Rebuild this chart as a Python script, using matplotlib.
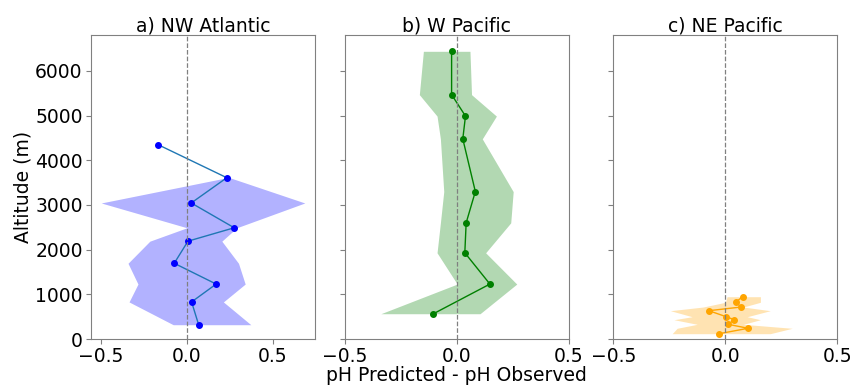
import numpy as np
import matplotlib
matplotlib.use('Agg')
import matplotlib.pyplot as plt

# NW Atlantic
alt_a = [4350, 3610, 3045, 2490, 2190, 1695, 1230, 830, 320]
diff_a = [-0.168, 0.232, 0.025, 0.275, 0.006, -0.074, 0.170, 0.027, 0.068]
low_a = [np.nan, 0.232, -0.499, 0.0, -0.216, -0.343, -0.285, -0.337, -0.080]
high_a = [np.nan, 0.250, 0.686, 0.290, 0.203, 0.300, 0.339, 0.212, 0.372]

# W Pacific
alt_b = [6440, 5470, 4990, 4480, 3300, 2600, 1930, 1230, 566]
diff_b = [-0.022, -0.022, 0.040, 0.028, 0.084, 0.043, 0.037, 0.149, -0.103]
low_b = [-0.148, -0.166, -0.087, -0.072, -0.057, -0.072, -0.087, 0.003, -0.338]
high_b = [0.060, 0.067, 0.178, 0.115, 0.253, 0.242, 0.130, 0.269, 0.105]

# NE Pacific
alt_c = [947, 822, 716, 634, 499, 432, 329, 240, 119]
diff_c = [0.076, 0.046, 0.070, -0.074, 0.003, 0.040, 0.012, 0.101, -0.028]
low_c = [0.007, 0.0, -0.100, -0.246, -0.149, -0.230, -0.126, -0.216, -0.238]
high_c = [0.156, 0.156, 0.080, 0.200, 0.097, 0.156, 0.080, 0.298, 0.200]

titles = ['a) NW Atlantic', 'b) W Pacific', 'c) NE Pacific']
fs = 13.5

fig = plt.figure(figsize=(8.53, 3.87), dpi=100)
lefts = [0.1067, 0.4039, 0.7192]
axes = [fig.add_axes([l, 0.124, 0.2626, 0.785]) for l in lefts]

panels = [
    (alt_a, diff_a, low_a, high_a, 'C0', 'blue', 'blue'),
    (alt_b, diff_b, low_b, high_b, 'green', 'green', 'green'),
    (alt_c, diff_c, low_c, high_c, 'orange', 'orange', 'orange'),
]

for i, (ax, p) in enumerate(zip(axes, panels)):
    alt, diff, low, high, lc, mc, fc = p
    ax.fill_betweenx(alt, low, high, color=fc, alpha=0.3, linewidth=0)
    ax.plot(diff, alt, color=lc, linewidth=1, marker='o', markersize=4,
            markerfacecolor=mc, markeredgecolor=mc)
    ax.axvline(0, color='grey', linestyle='--', linewidth=0.9)
    ax.set_ylim(0, 6800)
    ax.set_yticks([0, 1000, 2000, 3000, 4000, 5000, 6000])
    ax.set_title(titles[i], fontsize=fs, pad=3)
    ax.tick_params(labelsize=fs, color='grey', pad=2.5)
    for s in ax.spines.values():
        s.set_color('grey')
    if i > 0:
        ax.set_xlim(-0.5, 0.5)
        ax.set_yticklabels([])
    ax.set_xticks([-0.5, 0.0, 0.5])

axes[0].set_ylabel('Altitude (m)', fontsize=fs, labelpad=2)
axes[1].set_xlabel('pH Predicted - pH Observed', fontsize=fs, labelpad=0)

fig.savefig('out.png', dpi=100)
